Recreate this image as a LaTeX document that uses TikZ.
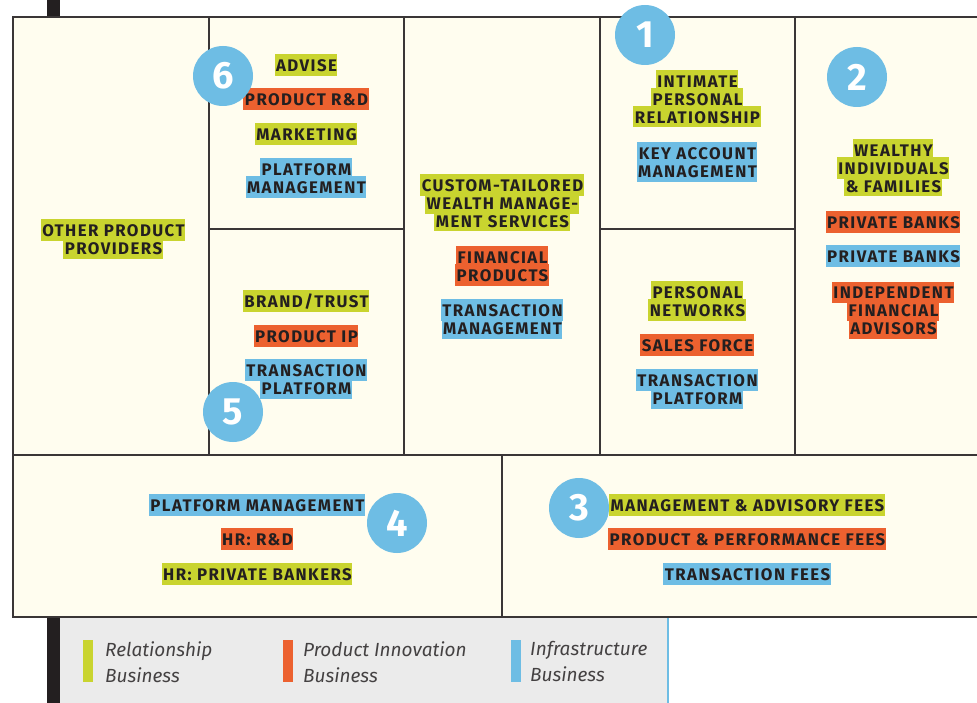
\documentclass[tikz,border=0pt]{standalone}
\usepackage{fontspec}
\setmainfont{Fira Sans}
\newfontfamily\lblfont[LetterSpace=8.5]{Fira Sans}
\newfontfamily\legfont{Fira Sans}
\definecolor{cream}{HTML}{FFFDEF}
\definecolor{hgreen}{HTML}{C9D42F}
\definecolor{horange}{HTML}{EC612F}
\definecolor{hblue}{HTML}{6EBDE4}
\definecolor{ink}{HTML}{231F20}
\definecolor{legendgray}{HTML}{EBEBEB}
\definecolor{gridc}{HTML}{3A3636}
\newcommand{\hlbox}[2]{{\setlength{\fboxsep}{0pt}\colorbox{#1}{\rule[-4.3pt]{0pt}{21.6pt}\hspace{1.5pt}#2\hspace{0.5pt}}}}
\newcommand{\hlG}[1]{\hlbox{hgreen}{#1}}
\newcommand{\hlO}[1]{\hlbox{horange}{#1}}
\newcommand{\hlB}[1]{\hlbox{hblue}{#1}}
\tikzset{
  lbl/.style={inner sep=0pt, align=center, text=ink,
    font={\lblfont\bfseries\fontsize{16.8}{17.7}\selectfont\lineskiplimit=-50pt\lineskip=0pt}},
  numcircle/.style={circle, fill=hblue, minimum size=60pt, inner sep=0pt, text=white,
    font={\bfseries\fontsize{38}{38}\selectfont}},
  gridline/.style={draw=gridc, line width=1.4pt},
  outerline/.style={draw=gridc, line width=2pt},
  legendtext/.style={inner sep=0pt, align=left, anchor=north west, text=ink!85,
    font={\legfont\itshape\fontsize{19}{26}\selectfont}},
}
\begin{document}
\begin{tikzpicture}[x=1pt,y=-1pt]
\useasboundingbox (0,0) rectangle (977,703);
% backgrounds
\fill[cream] (13,17) rectangle (977,617);
\fill[legendgray] (60,618) rectangle (668,703);
\draw[hblue, line width=2pt] (668,618) -- (668,703);
\fill[ink] (47,0) rectangle (60,17);
\fill[ink] (47,618) rectangle (60,703);
% grid
\draw[gridline] (13,455) -- (977,455);
\draw[gridline] (209,17) -- (209,455);
\draw[gridline] (404,17) -- (404,455);
\draw[gridline] (600,17) -- (600,455);
\draw[gridline] (795,17) -- (795,455);
\draw[gridline] (209,229) -- (404,229);
\draw[gridline] (600,229) -- (795,229);
\draw[gridline] (502,455) -- (502,617);
\draw[outerline] (977,17) -- (13,17) -- (13,617) -- (977,617);
% key partners
\node[lbl] (kp) at (113,239) {\hlG{OTHER PRODUCT}\\\hlG{PROVIDERS}};
% key activities
\node[lbl] (ka1) at (306,65) {\hlG{ADVISE}};
\node[lbl] (ka2) at (306,99) {\hlO{PRODUCT R\&D}};
\node[lbl] (ka3) at (306,134) {\hlG{MARKETING}};
\node[lbl] (ka4) at (306,178) {\hlB{PLATFORM}\\\hlB{MANAGEMENT}};
% key resources
\node[lbl] (kr1) at (306,301) {\hlG{BRAND/TRUST}};
\node[lbl] (kr2) at (306,336) {\hlO{PRODUCT IP}};
\node[lbl] (kr3) at (306,379) {\hlB{TRANSACTION}\\\hlB{PLATFORM}};
% value proposition
\node[lbl] (vp1) at (502,203) {\hlG{CUSTOM-TAILORED}\\\hlG{WEALTH MANAGE-}\\\hlG{MENT SERVICES}};
\node[lbl] (vp2) at (502,266) {\hlO{FINANCIAL}\\\hlO{PRODUCTS}};
\node[lbl] (vp3) at (502,319) {\hlB{TRANSACTION}\\\hlB{MANAGEMENT}};
% customer relationships
\node[lbl] (cr1) at (697,99) {\hlG{INTIMATE}\\\hlG{PERSONAL}\\\hlG{RELATIONSHIP}};
\node[lbl] (cr2) at (697,162) {\hlB{KEY ACCOUNT}\\\hlB{MANAGEMENT}};
% channels
\node[lbl] (ch1) at (697,301) {\hlG{PERSONAL}\\\hlG{NETWORKS}};
\node[lbl] (ch2) at (697,345) {\hlO{SALES FORCE}};
\node[lbl] (ch3) at (697,389) {\hlB{TRANSACTION}\\\hlB{PLATFORM}};
% customer segments
\node[lbl] (cs1) at (893,168) {\hlG{WEALTHY}\\\hlG{INDIVIDUALS}\\\hlG{\& FAMILIES}};
\node[lbl] (cs2) at (893,222) {\hlO{PRIVATE BANKS}};
\node[lbl] (cs3) at (893,256) {\hlB{PRIVATE BANKS}};
\node[lbl] (cs4) at (893,310) {\hlO{INDEPENDENT}\\\hlO{FINANCIAL}\\\hlO{ADVISORS}};
% cost structure
\node[lbl] (co1) at (257,505) {\hlB{PLATFORM MANAGEMENT}};
\node[lbl] (co2) at (257,539) {\hlO{HR: R\&D}};
\node[lbl] (co3) at (257,574) {\hlG{HR: PRIVATE BANKERS}};
% revenue streams
\node[lbl] (rs1) at (747,505) {\hlG{MANAGEMENT \& ADVISORY FEES}};
\node[lbl] (rs2) at (747,539) {\hlO{PRODUCT \& PERFORMANCE FEES}};
\node[lbl] (rs3) at (747,574) {\hlB{TRANSACTION FEES}};
% number circles
\node[numcircle] (n1) at (645,35) {1};
\node[numcircle] (n2) at (857,77) {2};
\node[numcircle] (n3) at (579,508) {3};
\node[numcircle] (n4) at (397,523) {4};
\node[numcircle] (n5) at (233,412) {5};
\node[numcircle] (n6) at (223,76) {6};
% legend
\fill[hgreen] (83,640) rectangle (93,682);
\node[legendtext] (l1) at (105,641) {Relationship\\Business};
\fill[horange] (283,640) rectangle (293,682);
\node[legendtext] (l2) at (303,641) {Product Innovation\\Business};
\fill[hblue] (511,640) rectangle (521,682);
\node[legendtext] (l3) at (530,641) {Infrastructure\\Business};
\end{tikzpicture}
\end{document}
